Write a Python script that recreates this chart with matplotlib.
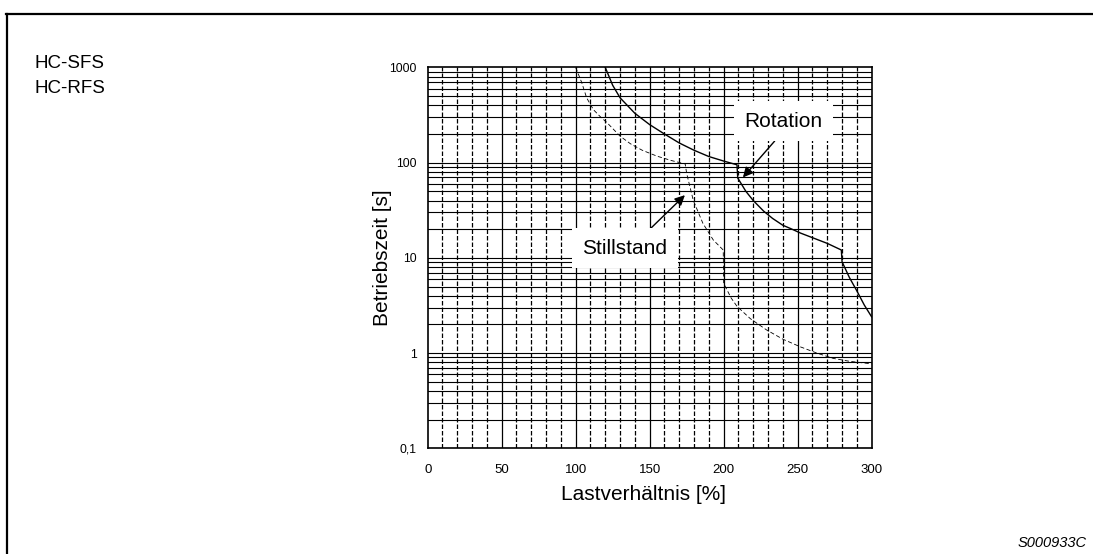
import numpy as np
import matplotlib
matplotlib.use('Agg')
import matplotlib.pyplot as plt
from matplotlib.lines import Line2D
from matplotlib.ticker import FixedLocator, NullFormatter

plt.rcParams['font.family'] = ['Liberation Sans', 'DejaVu Sans']

# Kennlinie bei Rotation (durchgezogen)
rot_x = [120, 125, 130, 140, 150, 160, 170, 180, 190, 200, 209, 209.5, 215, 220, 227,
         233, 240, 245, 252, 260, 270, 279.5, 280, 285, 290, 295, 300]
rot_y = [1000, 650, 480, 330, 251, 200, 161, 135, 116, 104, 95, 69, 50, 40, 31,
         26, 22, 20.4, 18.2, 16.3, 14.2, 12.1, 9.1, 6.2, 4.5, 3.2, 2.4]

# Kennlinie im Stillstand (gestrichelt)
still_x = [100, 104, 107.4, 112, 117, 121, 130, 137, 145, 155, 165, 174, 175, 179.5,
           186, 193, 199.7, 200, 205, 209, 218, 229, 240, 252, 263, 274, 285, 297, 300]
still_y = [1000, 700, 480, 360, 300, 265, 190, 158, 135, 117, 105, 97, 77, 40,
           23, 15.4, 12.1, 5.4, 3.8, 3.1, 2.3, 1.75, 1.4, 1.16, 1.0, 0.88, 0.82, 0.78, 0.77]

x_ticks = [0, 50, 100, 150, 200, 250, 300]
y_ticks = [0.1, 1, 10, 100, 1000]
y_labels = ['0,1', '1', '10', '100', '1000']

fig = plt.figure(figsize=(10.93, 5.54), dpi=100)
ax = fig.add_axes([0.3913, 0.1908, 0.4062, 0.6874])

ax.set_yscale('log')
ax.set_xlim(0, 300)
ax.set_ylim(0.1, 1000)

# Raster: waagerecht durchgezogen, senkrecht alle 50 durchgezogen, alle 10 gestrichelt
for yv in np.concatenate([np.arange(1, 10) * d for d in [0.1, 1, 10, 100]]):
    ax.axhline(yv, color='black', lw=0.8, zorder=1)
for xv in range(10, 300, 10):
    if xv % 50 == 0:
        ax.axvline(xv, color='black', lw=0.9, zorder=1)
    else:
        ax.axvline(xv, color='black', lw=0.9, dashes=(3.6, 1.6), zorder=1)

ax.plot(rot_x, rot_y, color='black', lw=1.0, zorder=3)
ax.plot(still_x, still_y, color='black', lw=0.6, dashes=(5, 3), zorder=3)

ax.set_xticks(x_ticks)
ax.set_xticklabels([str(v) for v in x_ticks], fontsize=9.5)
ax.yaxis.set_major_locator(FixedLocator(y_ticks))
ax.yaxis.set_minor_locator(FixedLocator([]))
ax.yaxis.set_minor_formatter(NullFormatter())
ax.set_yticklabels(y_labels, fontsize=8.8)
ax.tick_params(axis='both', length=0)
ax.tick_params(axis='x', pad=11)
ax.tick_params(axis='y', pad=8)
for sp in ax.spines.values():
    sp.set_linewidth(1.2)

ax.text(0.486, -0.1226, 'Lastverhältnis [%]', transform=ax.transAxes,
        ha='center', va='center', fontsize=15)
ax.text(-0.1007, 0.5, 'Betriebszeit [s]', transform=ax.transAxes,
        ha='center', va='center', rotation=90, fontsize=15)

box = dict(boxstyle='square,pad=0.5', fc='white', ec='none')
ax.annotate('Rotation', xy=(213, 70), xytext=(240.6, 273), ha='center', va='center',
            fontsize=15, bbox=box, zorder=4,
            arrowprops=dict(arrowstyle='-|>', color='black', lw=1.0, mutation_scale=15,
                            relpos=(0.5, 0.0), shrinkA=0, shrinkB=0))
ax.annotate('Stillstand', xy=(173.8, 45.6), xytext=(133.3, 12.7), ha='center', va='center',
            fontsize=15, bbox=box, zorder=4,
            arrowprops=dict(arrowstyle='-|>', color='black', lw=1.0, mutation_scale=15,
                            relpos=(0.68, 1.0), shrinkA=0, shrinkB=0))

# Rahmen und Beschriftungen der Seite
fig.add_artist(Line2D([0.0055, 1.0], [0.9756, 0.9756], color='black', lw=1.6))
fig.add_artist(Line2D([0.0061, 0.0061], [0.0, 0.9756], color='black', lw=1.6))
fig.text(0.032, 0.886, 'HC-SFS', fontsize=13.5, va='center', ha='left')
fig.text(0.032, 0.841, 'HC-RFS', fontsize=13.5, va='center', ha='left')
fig.text(0.9945, 0.02, 'S000933C', fontsize=10.5, style='italic', ha='right', va='center')

fig.savefig('out.png', dpi=100)
